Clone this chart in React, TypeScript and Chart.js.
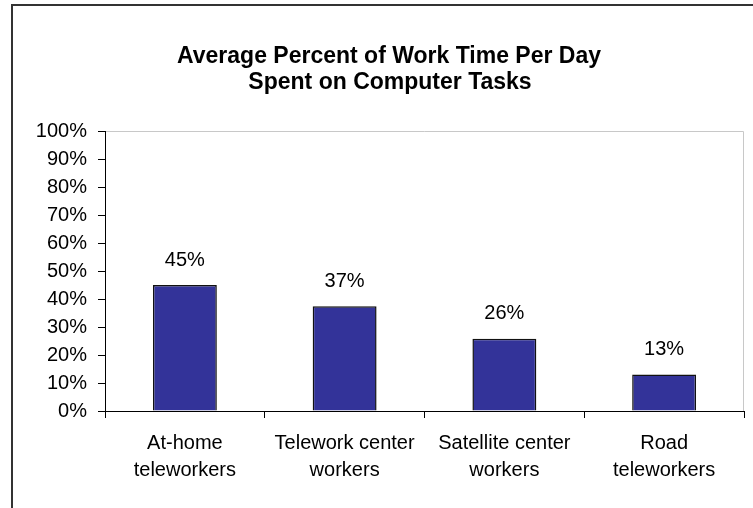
import React, { useEffect, useRef } from "react";
import { Chart, registerables } from "chart.js";

Chart.register(...registerables);

const categories: string[][] = [
  ["At-home", "teleworkers"],
  ["Telework center", "workers"],
  ["Satellite center", "workers"],
  ["Road", "teleworkers"],
];
const values: number[] = [45, 37.4, 25.8, 13];
const valueLabels: string[] = ["45%", "37%", "26%", "13%"];
const titleLines: string[] = ["Average Percent of Work Time Per Day", "Spent on Computer Tasks"];

const FONT = "Arial, 'Liberation Sans', sans-serif";

const decorPlugin = {
  id: "decor",
  beforeDraw(chart: any) {
    const ctx = chart.ctx;
    const { left, right, top, bottom } = chart.chartArea;
    ctx.save();
    ctx.fillStyle = "#ffffff";
    ctx.fillRect(0, 0, chart.width, chart.height);
    // outer frame
    ctx.strokeStyle = "#333333";
    ctx.lineWidth = 2;
    ctx.beginPath();
    ctx.moveTo(12, chart.height + 5);
    ctx.lineTo(12, 5);
    ctx.lineTo(chart.width + 5, 5);
    ctx.stroke();
    // plot area light border (top & right)
    ctx.strokeStyle = "#c8c8c8";
    ctx.lineWidth = 1;
    ctx.beginPath();
    ctx.moveTo(left, top + 0.5);
    ctx.lineTo(right - 0.5, top + 0.5);
    ctx.lineTo(right - 0.5, bottom);
    ctx.stroke();
    // title
    ctx.fillStyle = "#000000";
    ctx.font = `bold 23px ${FONT}`;
    ctx.textAlign = "center";
    ctx.textBaseline = "middle";
    ctx.fillText(titleLines[0], 389, 57);
    ctx.fillText(titleLines[1], 390, 83);
    ctx.restore();
  },
  afterDatasetsDraw(chart: any) {
    const ctx = chart.ctx;
    const meta = chart.getDatasetMeta(0);
    ctx.save();
    ctx.fillStyle = "#000000";
    ctx.font = `20px ${FONT}`;
    ctx.textAlign = "center";
    ctx.textBaseline = "middle";
    meta.data.forEach((bar: any, i: number) => {
      ctx.fillText(valueLabels[i], bar.x, bar.y - 25);
    });
    ctx.restore();
  },
};

export default function App() {
  const ref = useRef<HTMLCanvasElement | null>(null);
  useEffect(() => {
    if (!ref.current) return;
    const chart = new Chart(ref.current, {
      type: "bar",
      data: {
        labels: categories,
        datasets: [
          {
            data: values,
            backgroundColor: "#333399",
            borderColor: "#111111",
            borderWidth: 1.5,
            barPercentage: 0.4,
            categoryPercentage: 1,
          },
        ],
      },
      options: {
        responsive: false,
        animation: false,
        events: [],
        layout: { padding: { top: 131, right: 9, left: 0, bottom: 0 } },
        plugins: {
          legend: { display: false },
          title: { display: false },
          tooltip: { enabled: false },
        },
        scales: {
          x: {
            grid: {
              display: true,
              drawOnChartArea: false,
              drawTicks: true,
              tickLength: 7,
              color: "#000000",
              offset: true,
            },
            border: { display: true, color: "#000000", width: 1 },
            ticks: {
              color: "#000000",
              font: { family: FONT, size: 20, lineHeight: 1.35 },
              padding: 12,
              maxRotation: 0,
              minRotation: 0,
              autoSkip: false,
            },
            afterFit(scale: any) {
              scale.height = 97;
            },
          },
          y: {
            min: 0,
            max: 100,
            grid: {
              display: true,
              drawOnChartArea: false,
              drawTicks: true,
              tickLength: 7,
              color: "#000000",
            },
            border: { display: true, color: "#000000", width: 1 },
            ticks: {
              stepSize: 10,
              color: "#000000",
              font: { family: FONT, size: 20 },
              padding: 11,
              callback: (v: any) => `${v}%`,
            },
            afterFit(scale: any) {
              scale.width = 105;
            },
          },
        },
      },
      plugins: [decorPlugin],
    });
    return () => chart.destroy();
  }, []);
  return (
    <div style={{ position: "fixed", left: 0, top: 0, width: 753, height: 508, background: "#fff" }}>
      <canvas ref={ref} width={753} height={508} style={{ display: "block", width: 753, height: 508 }} />
    </div>
  );
}
